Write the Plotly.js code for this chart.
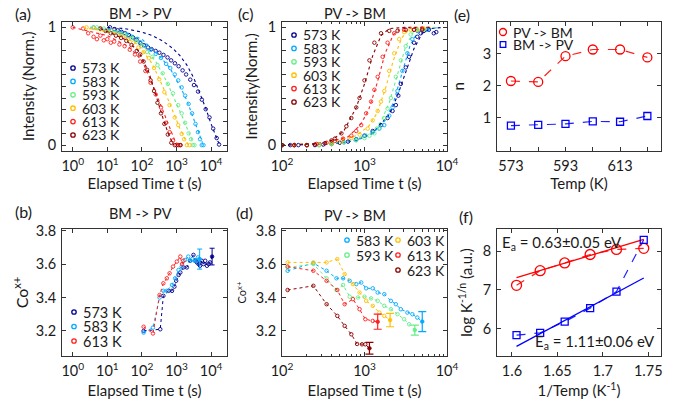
<!DOCTYPE html>
<html><head><meta charset="utf-8">
<script src="https://cdn.plot.ly/plotly-3.0.1.min.js"></script>
<style>html,body{margin:0;padding:0;background:#fff;} #chart{width:677px;height:405px;}</style>
</head><body><div id="chart"></div>
<script>
// ---------- labels & colours ----------
const T_LABELS = ['573 K','583 K','593 K','603 K','613 K','623 K'];
const COLORS = ['#00008f','#00aaff','#66ee88','#ffbf00','#ff1f1f','#8b0000'];

// ---------- (a) BM -> PV intensity decay ----------
const a573_t = [12,16,20,26,33,42,55,70,90,115,150,190,250,320,420,550,700,900,1150,1500,1900,2500,3200,4200,5400,7000,9000,11500,14500,17000];
const a573_I = [1.0,0.985,0.975,0.962,0.95,0.935,0.915,0.896,0.865,0.848,0.83,0.815,0.8,0.785,0.766,0.745,0.72,0.695,0.67,0.635,0.6,0.556,0.51,0.455,0.386,0.305,0.235,0.14,0.06,0.005];
const a583_t = [4,6.3,10,15.8,25.1,39.8,63.1,89.1,126,178,251,355,501,661,891,1122,1413,1778,2239,2818,3548,4169,4786,5370,6026];
const a583_I = [1.0,0.99,0.975,0.96,0.945,0.925,0.9,0.875,0.845,0.81,0.775,0.74,0.69,0.655,0.6,0.55,0.49,0.42,0.35,0.27,0.18,0.11,0.05,0.0,0.0];
const a593_t = [5,7.9,12.6,20,31.6,50.1,70.8,100,141,200,282,398,562,794,1122,1413,1778,2239,2630,2951,3311];
const a593_I = [1.0,0.99,0.975,0.96,0.94,0.91,0.88,0.84,0.79,0.75,0.68,0.61,0.52,0.44,0.34,0.27,0.19,0.10,0.05,0.0,0.0];
const a603_t = [2.5,4,6.3,10,15.8,25.1,39.8,56.2,79.4,112,158,224,316,447,631,891,1122,1413,1660,1995,2399];
const a603_I = [1.0,0.995,0.985,0.97,0.955,0.93,0.9,0.87,0.83,0.79,0.74,0.655,0.56,0.45,0.34,0.235,0.17,0.095,0.05,0.0,0.0];
const a613_t = [1,2,2.8,4,5,6.3,7.9,10,12.6,15.8,22.4,31.6,44.7,63.1,89.1,126,178,251,355,501,631,794,1000,1259];
const a613_I = [1.0,0.99,0.95,0.92,0.9,0.93,0.89,0.9,0.87,0.88,0.855,0.84,0.81,0.77,0.71,0.63,0.53,0.43,0.32,0.19,0.11,0.04,0.0,0.0];
const a623_t = [6.3,8.9,12.6,17.8,25.1,35.5,50.1,70.8,89.1,112,141,178,224,282,355,447,562,708,891,1122,1318];
const a623_I = [0.99,0.97,0.95,0.93,0.91,0.885,0.85,0.8,0.77,0.71,0.64,0.55,0.46,0.36,0.27,0.18,0.09,0.02,0.0,0.0,0.0];
// fits (dotted)
const a573_ft = [10,31.6,100,200,398,794,1259,1995,3162,5012,7079,10000,12589,15849,19055];
const a573_fI = [1.0,0.99,0.96,0.93,0.885,0.82,0.76,0.68,0.57,0.43,0.31,0.18,0.1,0.03,0.0];
const a583_ft = [3.16,31.6,100,316,631,1259,1995,3162,4467,5623];
const a583_fI = [1.0,0.96,0.9,0.76,0.66,0.5,0.38,0.22,0.1,0.02];
const a593_ft = [3.16,31.6,100,251,501,1000,1585,2239,3020];
const a593_fI = [1.0,0.95,0.86,0.71,0.55,0.36,0.22,0.11,0.02];
const a603_ft = [2,20,79.4,200,398,794,1259,1778,2239];
const a603_fI = [1.0,0.95,0.85,0.69,0.5,0.28,0.14,0.05,0.0];
const a613_ft = [1,10,39.8,100,200,398,631,891,1122];
const a613_fI = [1.0,0.93,0.84,0.72,0.52,0.3,0.14,0.04,0.0];
const a623_ft = [6.3,31.6,79.4,158,282,447,631,832];
const a623_fI = [0.99,0.9,0.8,0.62,0.38,0.19,0.07,0.0];

// ---------- (c) PV -> BM intensity rise ----------
const c573_t = [100,126,158,200,251,316,398,501,631,794,1000,1259,1585,1905,2188,2399,2570,2754,3162,3467,3981,4365,4786,5248,6026,6918,7413];
const c573_I = [0,0,0,0,0,0.005,0.01,0.02,0.03,0.05,0.08,0.12,0.17,0.23,0.29,0.34,0.42,0.52,0.66,0.75,0.87,0.92,0.95,0.97,0.98,0.95,0.96];
const c583_t = [100,141,200,282,398,562,794,1000,1259,1514,1738,1995,2188,2512,2884,3311,3802,4365,5012,5754];
const c583_I = [0,0,0,0,0.01,0.025,0.05,0.08,0.11,0.14,0.17,0.25,0.32,0.46,0.63,0.78,0.9,0.97,0.98,0.98];
const c593_t = [100,141,200,282,398,562,794,1000,1148,1318,1514,1738,1905,2089,2399,2754,3162,3631,4365,5248];
const c593_I = [0,0,0,0,0.01,0.02,0.04,0.06,0.08,0.1,0.15,0.23,0.31,0.4,0.58,0.72,0.84,0.94,0.98,0.98];
const c603_t = [100,141,200,282,398,525,692,871,1096,1259,1445,1585,1738,1995,2291,2630,3020,3631,4365,5248];
const c603_I = [0,0,0,0.005,0.015,0.03,0.06,0.09,0.14,0.21,0.29,0.37,0.46,0.63,0.78,0.9,0.96,0.98,0.98,0.99];
const c613_t = [100,141,200,263,347,437,550,692,794,912,1047,1202,1318,1445,1660,1905,2291,3020,3981,5012];
const c613_I = [0,0,0,0.01,0.02,0.035,0.055,0.08,0.12,0.17,0.27,0.37,0.47,0.58,0.75,0.87,0.95,0.98,0.98,0.99];
const c623_t = [100,141,200,251,331,398,437,525,603,692,794,871,1000,1148,1318,1585,1995,2512,3162,3981,5012];
const c623_I = [0,0,0,0.005,0.015,0.04,0.055,0.1,0.16,0.23,0.32,0.4,0.55,0.72,0.87,0.95,0.97,0.97,0.98,0.98,0.98];
const c573_ft = [100,398,794,1259,1995,2512,3162,3981,5012,6310,8913];
const c573_fI = [0,0.01,0.04,0.1,0.26,0.42,0.62,0.82,0.95,0.99,1.0];
const c583_ft = [100,398,794,1259,1778,2239,2818,3548,4467,7943];
const c583_fI = [0,0.01,0.04,0.1,0.21,0.36,0.6,0.84,0.97,1.0];
const c593_ft = [100,398,794,1259,1585,1995,2512,3162,3981,7079];
const c593_fI = [0,0.015,0.05,0.12,0.2,0.36,0.6,0.84,0.97,1.0];
const c603_ft = [100,398,794,1122,1413,1778,2239,2818,3548,6310];
const c603_fI = [0,0.02,0.08,0.16,0.27,0.47,0.72,0.91,0.99,1.0];
const c613_ft = [100,316,631,891,1122,1413,1778,2239,2818,6310];
const c613_fI = [0,0.015,0.07,0.17,0.3,0.52,0.78,0.94,0.99,1.0];
const c623_ft = [100,251,398,562,794,1000,1259,1585,1995,3162,6310];
const c623_fI = [0,0.01,0.04,0.12,0.32,0.52,0.76,0.93,0.99,1.0,1.0];

// ---------- (b) BM -> PV Co valence ----------
const b573_t = [112,339,417,589,741,871,977,1150,1290,1585,1995,2455,3090,3550,3890,4370,4790,5370,6030,6760,7590,8510,9330,10700];
const b573_y = [3.20,3.21,3.41,3.44,3.44,3.465,3.50,3.535,3.55,3.58,3.58,3.62,3.655,3.62,3.61,3.60,3.59,3.62,3.60,3.62,3.59,3.60,3.61,3.645];
const b583_t = [112,209,324,417,525,741,912,1148,1413,1778,2188,2512,2884,3311,3802,4169,4677];
const b583_y = [3.19,3.22,3.40,3.44,3.44,3.475,3.515,3.565,3.585,3.625,3.645,3.62,3.63,3.62,3.62,3.64,3.63];
const b613_t = [112,209,324,417,525,631,794,1023,1288,1445,1585];
const b613_y = [3.225,3.185,3.415,3.485,3.515,3.545,3.585,3.615,3.645,3.60,3.62];
const b_err_t = [10700,4677];
const b_err_y = [3.645,3.63];
const b_err_e = [0.05,0.06];

// ---------- (d) PV -> BM Co valence ----------
const d583_t = [117,240,347,457,550,661,794,912,1047,1259,1445,1738,2089,2399,2754,3311,3802,4365,5012];
const d583_y = [3.56,3.606,3.56,3.515,3.515,3.50,3.48,3.49,3.455,3.455,3.43,3.42,3.38,3.36,3.33,3.31,3.30,3.28,3.256];
const d593_t = [117,240,347,457,550,661,832,1000,1202,1445,1738,2089,2512,3020,3467,4074];
const d593_y = [3.58,3.60,3.515,3.445,3.475,3.405,3.40,3.405,3.395,3.38,3.35,3.33,3.30,3.27,3.24,3.205];
const d603_t = [117,240,347,468,575,724,871,1047,1259,1514,1738,2042];
const d603_y = [3.61,3.61,3.61,3.63,3.54,3.48,3.43,3.38,3.35,3.31,3.29,3.265];
const d613_t = [117,240,347,468,575,724,871,1023,1259,1445];
const d613_y = [3.585,3.56,3.50,3.445,3.36,3.39,3.33,3.27,3.26,3.255];
const d623_t = [117,240,347,468,575,692,813,933,1023,1148];
const d623_y = [3.445,3.47,3.36,3.29,3.23,3.18,3.122,3.12,3.12,3.096];
const d_err_t = [5012,4074,2042,1445,1148];
const d_err_y = [3.256,3.205,3.265,3.255,3.096];
const d_err_e = [0.06,0.03,0.04,0.045,0.035];

// ---------- (e) Avrami exponent n ----------
const e_temp = [573,583,593,603,613,623];
const e_nPV = [2.15,2.12,2.93,3.14,3.14,2.89];
const e_nBM = [0.75,0.77,0.80,0.88,0.87,1.05];

// ---------- (f) Arrhenius ----------
const f_invT = [1.605,1.631,1.658,1.686,1.715,1.745];
const f_PV = [7.12,7.50,7.70,7.92,8.05,8.08];
const f_BM = [5.83,5.89,6.18,6.53,6.96,8.30];
const f_fitX = [1.605,1.745];
const f_fitPV = [7.32,8.31];
const f_fitBM = [5.54,7.31];

// ---------- tick labels ----------
const A_XTICKV = [1,10,100,1000,10000];
const A_XTICKT = ['10<sup>0</sup>','10<sup>1</sup>','10<sup>2</sup>','10<sup>3</sup>','10<sup>4</sup>'];
const C_XTICKV = [100,1000,10000];
const C_XTICKT = ['10<sup>2</sup>','10<sup>3</sup>','10<sup>4</sup>'];
const C_MINOR = [200,300,400,500,600,700,800,900,2000,3000,4000,5000,6000,7000,8000,9000];
const I_TICKV = [0,1];
const I_TICKT = ['0','1'];
const I_MINOR = [0.1,0.2,0.3,0.4,0.5,0.6,0.7,0.8,0.9];
const CO_TICKV = [3.2,3.4,3.6,3.8];
const CO_TICKT = ['3.2','3.4','3.6','3.8'];
const E_XTICKV = [573,593,613];
const E_XTICKT = ['573','593','613'];
const E_XMINOR = [583,603,623];
const E_YTICKV = [1,2,3];
const F_XTICKV = [1.6,1.65,1.7,1.75];
const F_XTICKT = ['1.6','1.65','1.7','1.75'];
const F_YTICKV = [6,7,8];

// ---------- layout helpers (pixel -> paper) ----------
const W = 677, H = 405;
const P = px => px / W;
const Q = py => 1 - py / H;
const FONT = 'Lato, "Open Sans", sans-serif';
const INK = '#1a1a1a';
const TICKF = 14.5, TITLEF = 15, LEGF = 14;

const traces = [];
function scat(xa, ya, x, y, color, opts) {
  return Object.assign({type:'scatter', x:x, y:y, xaxis:xa, yaxis:ya, showlegend:false, hoverinfo:'skip'}, opts);
}
function addData(xa, ya, x, y, color, sz) {
  traces.push(scat(xa, ya, x, y, color, {mode:'markers', marker:{symbol:'circle-open', size:sz||3.5, color:color, line:{width:0.9, color:color}}}));
}
function addLine(xa, ya, x, y, color, dash, w) {
  traces.push(scat(xa, ya, x, y, color, {mode:'lines', line:{color:color, dash:dash||'dot', width:w||1.1}}));
}

// (a)
const aT = [a573_t,a583_t,a593_t,a603_t,a613_t,a623_t], aI = [a573_I,a583_I,a593_I,a603_I,a613_I,a623_I];
const aFT = [a573_ft,a583_ft,a593_ft,a603_ft,a613_ft,a623_ft], aFI = [a573_fI,a583_fI,a593_fI,a603_fI,a613_fI,a623_fI];
for (let i=0;i<6;i++){ addData('x','y',aT[i],aI[i],COLORS[i],3.5); }
for (let i=0;i<6;i++){ addLine('x','y',aFT[i],aFI[i],COLORS[i],'dot',1.1); }
// (c)
const cT = [c573_t,c583_t,c593_t,c603_t,c613_t,c623_t], cI = [c573_I,c583_I,c593_I,c603_I,c613_I,c623_I];
const cFT = [c573_ft,c583_ft,c593_ft,c603_ft,c613_ft,c623_ft], cFI = [c573_fI,c583_fI,c593_fI,c603_fI,c613_fI,c623_fI];
for (let i=0;i<6;i++){ addLine('x2','y2',cFT[i],cFI[i],COLORS[i],'dot',1.1); }
for (let i=0;i<6;i++){ addData('x2','y2',cT[i],cI[i],COLORS[i],3.5); }
// (b)
const bSets = [[b573_t,b573_y,0],[b583_t,b583_y,1],[b613_t,b613_y,4]];
bSets.forEach(s=>{ addLine('x4','y4',s[0],s[1],COLORS[s[2]],'dot',1); addData('x4','y4',s[0],s[1],COLORS[s[2]],3.5); });
const bErrCol = [COLORS[0],COLORS[1]];
for (let i=0;i<b_err_t.length;i++){
  traces.push(scat('x4','y4',[b_err_t[i]],[b_err_y[i]],bErrCol[i],{mode:'markers',marker:{size:3,color:bErrCol[i]},error_y:{type:'data',array:[b_err_e[i]],color:bErrCol[i],thickness:1,width:2.5}}));
}
// (d)
const dSets = [[d583_t,d583_y,1],[d593_t,d593_y,2],[d603_t,d603_y,3],[d613_t,d613_y,4],[d623_t,d623_y,5]];
dSets.forEach(s=>{ addLine('x5','y5',s[0],s[1],COLORS[s[2]],'dot',1); addData('x5','y5',s[0],s[1],COLORS[s[2]],3.5); });
const dErrCol = [COLORS[1],COLORS[2],COLORS[3],COLORS[4],COLORS[5]];
for (let i=0;i<d_err_t.length;i++){
  traces.push(scat('x5','y5',[d_err_t[i]],[d_err_y[i]],dErrCol[i],{mode:'markers',marker:{size:3.5,color:dErrCol[i]},error_y:{type:'data',array:[d_err_e[i]],color:dErrCol[i],thickness:1.2,width:4}}));
}
// (e)
addLine('x3','y3',e_temp,e_nPV,'#ff2020','dash',1.2);
addLine('x3','y3',e_temp,e_nBM,'#2020ff','dash',1.2);
traces.push(scat('x3','y3',e_temp,e_nPV,'#ff0000',{mode:'markers',marker:{symbol:'circle-open',size:9,color:'#ff0000',line:{width:1.3,color:'#ff0000'}}}));
traces.push(scat('x3','y3',e_temp,e_nBM,'#0000ff',{mode:'markers',marker:{symbol:'square-open',size:7,color:'#0000ff',line:{width:1.3,color:'#0000ff'}}}));
// (f)
addLine('x6','y6',f_invT,f_PV,'#ff2020','dash',1.2);
addLine('x6','y6',f_invT,f_BM,'#2020ff','dash',1.2);
addLine('x6','y6',f_fitX,f_fitPV,'#ff0000','solid',1.3);
addLine('x6','y6',f_fitX,f_fitBM,'#0000ff','solid',1.3);
traces.push(scat('x6','y6',f_invT,f_PV,'#ff0000',{mode:'markers',marker:{symbol:'circle-open',size:10,color:'#ff0000',line:{width:1.3,color:'#ff0000'}}}));
traces.push(scat('x6','y6',f_invT,f_BM,'#0000ff',{mode:'markers',marker:{symbol:'square-open',size:7,color:'#0000ff',line:{width:1.3,color:'#0000ff'}}}));

// ---------- axes ----------
const X_A = [P(62),P(227)], X_C = [P(282),P(447)], X_E = [P(497),P(661)];
const Y_TOP = [Q(151),Q(21.5)], Y_BOT = [Q(356),Q(229)];
function ttl(text, standoff, size){ return {text:text, standoff:standoff, font:{family:FONT,size:size||TITLEF,color:INK}}; }
function ax(extra){
  return Object.assign({showline:true, mirror:'ticks', linecolor:'#333', linewidth:1, ticks:'inside', ticklen:4, tickcolor:'#333',
    showgrid:false, zeroline:false, tickfont:{family:FONT,size:TICKF,color:INK}, ticklabelstandoff:2}, extra);
}
function minor(vals){ return {tickmode:'array', tickvals:vals, ticks:'inside', ticklen:2.5, tickcolor:'#333', showgrid:false}; }
function minorLong(vals){ return {tickmode:'array', tickvals:vals, ticks:'inside', ticklen:4, tickcolor:'#333', showgrid:false}; }

const layout = {
  width:W, height:H, margin:{l:0,r:0,t:0,b:0}, paper_bgcolor:'#fff', plot_bgcolor:'#fff',
  showlegend:false, hovermode:false, font:{family:FONT,size:13,color:INK},
  xaxis: ax({domain:X_A, anchor:'y', type:'log', range:[-0.31,4.46], tickmode:'array', tickvals:A_XTICKV, ticktext:A_XTICKT,
    title:ttl('Elapsed Time t (s)',3)}),
  yaxis: ax({domain:Y_TOP, anchor:'x', range:[-0.05,1.05], tickmode:'array', tickvals:I_TICKV, ticktext:I_TICKT, minor:minorLong(I_MINOR),
    title:ttl('Intensity (Norm.)',9)}),
  xaxis2: ax({domain:X_C, anchor:'y2', type:'log', range:[2,4], tickmode:'array', tickvals:C_XTICKV, ticktext:C_XTICKT, minor:minor(C_MINOR),
    title:ttl('Elapsed Time t (s)',3)}),
  yaxis2: ax({domain:Y_TOP, anchor:'x2', range:[-0.05,1.05], tickmode:'array', tickvals:I_TICKV, ticktext:I_TICKT, minor:minorLong(I_MINOR),
    title:ttl('Intensity(Norm.)',6)}),
  xaxis3: ax({domain:X_E, anchor:'y3', range:[567.9,628], tickmode:'array', tickvals:E_XTICKV, ticktext:E_XTICKT, minor:minorLong(E_XMINOR),
    title:ttl('Temp (K)',4)}),
  yaxis3: ax({domain:Y_TOP, anchor:'x3', range:[-0.05,4.02], tickmode:'array', tickvals:E_YTICKV,
    title:ttl('n',14)}),
  xaxis4: ax({domain:X_A, anchor:'y4', type:'log', range:[-0.31,4.46], tickmode:'array', tickvals:A_XTICKV, ticktext:A_XTICKT,
    title:ttl('Elapsed Time t (s)',7)}),
  yaxis4: ax({domain:Y_BOT, anchor:'x4', range:[3.05,3.81], tickmode:'array', tickvals:CO_TICKV, ticktext:CO_TICKT,
    title:ttl('Co<sup>x+</sup>',3,16)}),
  xaxis5: ax({domain:X_C, anchor:'y5', type:'log', range:[2,4], tickmode:'array', tickvals:C_XTICKV, ticktext:C_XTICKT, minor:minor(C_MINOR),
    title:ttl('Elapsed Time t (s)',7)}),
  yaxis5: ax({domain:Y_BOT, anchor:'x5', range:[3.05,3.81], tickmode:'array', tickvals:CO_TICKV, ticktext:CO_TICKT,
    title:ttl('Co<sup>x+</sup>',6,11)}),
  xaxis6: ax({domain:X_E, anchor:'y6', range:[1.5835,1.764], tickmode:'array', tickvals:F_XTICKV, ticktext:F_XTICKT,
    title:ttl('1/Temp (K<sup>-1</sup>)',7)}),
  yaxis6: ax({domain:Y_BOT, anchor:'x6', range:[5.29,8.58], tickmode:'array', tickvals:F_YTICKV,
    title:ttl('log K<sup>-1/n</sup> (a.u.)',6)}),
  annotations: [], shapes: []
};

function txt(x, y, text, size, anchor, extra){
  layout.annotations.push(Object.assign({xref:'paper', yref:'paper', x:P(x), y:Q(y), text:text, showarrow:false,
    xanchor:anchor||'center', yanchor:'middle', font:{family:FONT, size:size, color:INK}}, extra));
}
// panel letters & titles
txt(23,14,'(a)',16); txt(245,14,'(c)',16); txt(462,15,'(e)',16);
txt(23,211,'(b)',16); txt(244,212,'(d)',16); txt(466,217,'(f)',16);
txt(140,13,'BM -> PV',14.5); txt(355,13,'PV -> BM',14.5);
txt(140,214,'BM -> PV',14.5); txt(355,215,'PV -> BM',14.5);
// activation energies
txt(500,243,'E<sub>a</sub> = 0.63±0.05 eV',15,'left');
txt(657,342,'E<sub>a</sub> = 1.11±0.06 eV',15,'right');

// custom legends
function legCircle(cx, cy, r, color){
  layout.shapes.push({type:'circle', xref:'paper', yref:'paper', x0:P(cx-r), x1:P(cx+r), y0:Q(cy+r), y1:Q(cy-r), line:{color:color, width:1.3}});
}
function legSquare(cx, cy, r, color){
  layout.shapes.push({type:'rect', xref:'paper', yref:'paper', x0:P(cx-r), x1:P(cx+r), y0:Q(cy+r), y1:Q(cy-r), line:{color:color, width:1.3}});
}
for (let i=0;i<6;i++){ legCircle(73,68+13.4*i,2.2,COLORS[i]); txt(80,68+13.4*i,T_LABELS[i],LEGF,'left'); }
for (let i=0;i<6;i++){ legCircle(294,35+13.4*i,2.2,COLORS[i]); txt(301,35+13.4*i,T_LABELS[i],LEGF,'left'); }
[0,1,4].forEach((k,j)=>{ legCircle(74,312+14.5*j,2.2,COLORS[k]); txt(81,312+14.5*j,T_LABELS[k],14.5,'left'); });
[1,2].forEach((k,j)=>{ legCircle(347,240+15*j,2.2,COLORS[k]); txt(354,240+15*j,T_LABELS[k],14,'left'); });
[3,4,5].forEach((k,j)=>{ legCircle(398,240+15*j,2.2,COLORS[k]); txt(405,240+15*j,T_LABELS[k],14,'left'); });
legCircle(503,32,3.5,'#ff0000'); txt(511,32,'PV -> BM',14,'left');
legSquare(503,44.5,2.8,'#0000ff'); txt(511,44.5,'BM -> PV',14,'left');

Plotly.newPlot('chart', traces, layout, {staticPlot:true, displayModeBar:false});
</script></body></html>
